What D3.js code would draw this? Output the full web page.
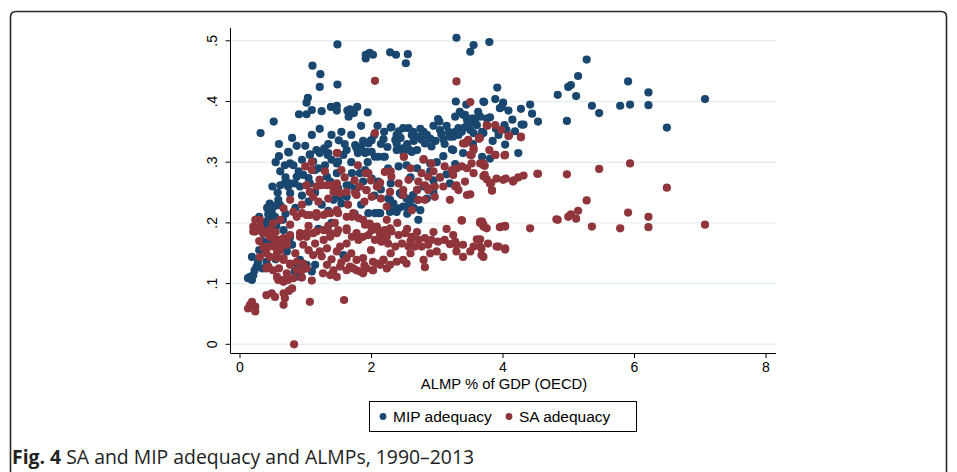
<!DOCTYPE html>
<html><head><meta charset="utf-8">
<script src="https://cdn.jsdelivr.net/npm/d3@7"></script>
<style>body{margin:0;background:#fff}svg{display:block}</style>
</head><body><svg id="c" width="957" height="472"></svg>
<script>
const xTicks=[0,2,4,6,8];
const yTicks=[0,0.1,0.2,0.3,0.4,0.5];
const yTickLabels=["0",".1",".2",".3",".4",".5"];
const xTitle="ALMP % of GDP (OECD)";
const seriesNames=["MIP adequacy","SA adequacy"];
const mip=[
[0.32,0.348],[0.52,0.367],[1.11,0.459],[1.23,0.445],[1.22,0.424],[1.49,0.428],[1.04,0.406],[1.02,0.398],[0.905,0.379],[1.02,0.379],[1.10,0.386],[1.25,0.384],[1.39,0.391],[1.48,0.393],[1.48,0.385],[1.64,0.385],[1.68,0.387],[1.66,0.375],[1.74,0.381],[1.79,0.391],[1.95,0.382],[1.22,0.355],[1.51,0.336],
[0.75,0.316],[0.87,0.327],[1.0,0.327],[1.17,0.32],[1.29,0.323],[1.63,0.32],[1.76,0.328],[1.88,0.335],[2.0,0.336],[2.19,0.338],[2.30,0.357],[2.42,0.351],
[1.49,0.494],[1.92,0.477],[1.98,0.48],[2.03,0.477],[1.92,0.471],[2.29,0.481],[2.38,0.477],[2.56,0.478],[2.53,0.463],
[3.30,0.505],[3.56,0.493],[3.51,0.482],[3.80,0.498],
[3.29,0.40],[3.71,0.40],[3.02,0.371],[3.04,0.367],[3.28,0.375],[3.35,0.383],[3.43,0.378],[3.56,0.372],[3.63,0.383],[3.66,0.375],
[5.28,0.469],[5.15,0.442],[5.0,0.424],[5.04,0.427],[4.84,0.411],[5.12,0.409],[5.91,0.433],[6.22,0.415],[7.08,0.404],[5.36,0.393],[5.47,0.381],[5.79,0.393],[5.94,0.395],[6.22,0.394],[6.50,0.357],[4.98,0.368],[4.42,0.395],[4.54,0.367],[4.28,0.388],[4.32,0.362],[4.29,0.362],[3.92,0.423],[3.89,0.404],[3.72,0.399],[4.01,0.398],[3.99,0.391],[4.09,0.385],[3.96,0.389],[3.81,0.374],[3.69,0.348],[4.03,0.361],[4.06,0.353],[3.94,0.345],[4.04,0.329],[4.24,0.315],[3.81,0.306],[3.69,0.309],[3.25,0.32],[3.28,0.297],
[4.19,0.351],[3.40,0.378],[3.46,0.37],[3.53,0.372],[3.76,0.372],[3.58,0.367],[3.51,0.364],[3.43,0.358],[3.33,0.356],[3.28,0.35],[3.25,0.342],[3.33,0.345],[3.38,0.35],[3.51,0.353],[3.56,0.348],[3.61,0.361],[3.69,0.35],
[3.05,0.353],[3.07,0.346],[3.10,0.338],[3.20,0.342],[2.80,0.35],[2.77,0.337],[2.90,0.339],[2.92,0.326],[2.70,0.32],[2.59,0.32],[2.49,0.323],[2.39,0.32],[2.37,0.337],[2.39,0.345],[2.49,0.356],[2.57,0.356],[2.64,0.35],[2.72,0.342],[2.82,0.331],[2.31,0.358],[3.66,0.342],[3.71,0.348],[3.23,0.321],
[2.39,0.331],[2.42,0.323],[2.01,0.336],[1.96,0.331],[1.78,0.323],[1.34,0.312],[1.29,0.321],[1.07,0.313],[2.06,0.309],[2.19,0.309],[1.93,0.317],[1.80,0.315],
[0.74,0.317],[0.69,0.295],[0.77,0.298],[0.95,0.304],[1.07,0.312],[1.12,0.301],[1.22,0.315],[1.35,0.315],[1.40,0.304],[1.48,0.298],[0.87,0.276],[0.97,0.279],[1.05,0.274],[0.69,0.265],[0.74,0.26],[0.84,0.265],[0.77,0.249],[0.59,0.238],[0.62,0.229],[0.51,0.227],[0.49,0.218],[0.44,0.213],[0.54,0.21],[0.41,0.202],[1.15,0.287],[1.33,0.276],[1.48,0.282],[1.53,0.243],[1.55,0.232],[1.58,0.312],[1.50,0.301],[0.67,0.188],[0.77,0.177],[0.80,0.164],[0.64,0.164],[0.46,0.172],
[1.91,0.315],[2.11,0.309],[2.21,0.309],[2.01,0.317],[2.49,0.317],[2.62,0.317],[1.71,0.282],[1.83,0.282],[1.91,0.287],[2.01,0.273],[2.11,0.268],[2.26,0.29],[2.42,0.293],[2.54,0.295],[1.68,0.262],[1.76,0.254],[1.63,0.243],[2.26,0.24],[2.34,0.232],[2.42,0.224],[2.54,0.227],[2.59,0.238],[2.64,0.246],[2.70,0.254],[2.47,0.246],[2.37,0.221],[2.29,0.218],[1.96,0.216],[2.11,0.216],[2.72,0.205],[2.90,0.298],
[0.19,0.144],[0.26,0.128],[0.23,0.122],[0.16,0.111],[0.19,0.106],[0.13,0.109],[0.21,0.114],[0.41,0.136],[0.59,0.155],[0.67,0.161],[0.72,0.153],[0.84,0.12],[0.92,0.111],[1.10,0.12],[1.15,0.131],[0.97,0.128],[1.58,0.147],
[0.62,0.262],[0.77,0.265],[0.92,0.26],[1.07,0.265],[1.22,0.271],[1.38,0.268],[1.50,0.257],[1.50,0.243],[1.43,0.238],[1.63,0.262],[1.78,0.257],[1.88,0.268],[2.06,0.216],[2.14,0.216],[2.29,0.221],[2.39,0.218],[2.49,0.227],[2.59,0.232],[2.70,0.238],[2.75,0.221],[2.54,0.24],[2.29,0.238],[2.44,0.249],
[0.46,0.232],[0.51,0.227],[0.57,0.229],[0.44,0.216],[0.49,0.21],[0.41,0.194],[0.36,0.183],[0.51,0.188],[0.62,0.172],[0.72,0.161],[0.77,0.166],[0.87,0.133],[0.92,0.139],[1.02,0.131],
[1.55,0.35],[1.70,0.345],[1.85,0.36],[2.10,0.36],[2.20,0.35],[2.80,0.26],[2.95,0.27],[3.05,0.275],[3.15,0.28],[2.90,0.285],[3.0,0.30],
[0.55,0.30],[0.60,0.31],[0.82,0.295],[0.90,0.285],[1.20,0.29],[1.30,0.295],[0.95,0.245],[1.05,0.235],[1.15,0.25],[0.70,0.215],[0.85,0.225],[1.25,0.23],[1.35,0.22],[0.30,0.155],[0.35,0.17],[0.55,0.14],[1.20,0.19],[1.40,0.2],[1.75,0.215],[1.85,0.23],[2.05,0.245],[2.15,0.255],[2.30,0.265],[2.60,0.275],[2.70,0.29],[3.10,0.31],[3.40,0.315],[3.55,0.33],[3.85,0.335],[3.45,0.395],[3.90,0.355],[4.15,0.37],[4.45,0.38],[3.15,0.36],[2.95,0.36],[2.65,0.335],[1.95,0.30],[1.70,0.30],[1.40,0.345],[1.10,0.345],[0.80,0.34],[0.60,0.33],
[2.45,0.34],[2.55,0.33],[2.62,0.345],[2.75,0.355],[2.85,0.345],[2.98,0.335],[3.12,0.33],[3.18,0.35],[2.25,0.325],[2.15,0.33],[1.85,0.325],[1.60,0.33],[1.35,0.33],[2.05,0.345],[0.50,0.26],[0.58,0.25],[0.62,0.285],[0.70,0.275],[0.66,0.205],[0.56,0.195],[0.42,0.225],[0.30,0.21],[0.38,0.2],[0.28,0.135],[0.35,0.125],[2.55,0.215],[2.65,0.225],[2.85,0.24],[2.95,0.25],[3.2,0.265],[3.3,0.29]
];
const sa=[
[2.06,0.434],[2.06,0.348],[1.49,0.315],[3.30,0.433],[3.51,0.399],
[3.77,0.36],[3.89,0.361],[3.98,0.353],[4.10,0.344],[4.28,0.342],[3.65,0.34],[3.80,0.32],[3.89,0.312],[4.03,0.311],[3.71,0.298],[3.73,0.294],[5.47,0.289],[5.94,0.298],[4.54,0.281],[4.98,0.280],[3.71,0.277],[3.76,0.272],[3.91,0.273],[4.01,0.271],[4.05,0.273],[4.17,0.27],[4.24,0.275],[4.32,0.278],[3.83,0.266],[6.50,0.258],[3.84,0.254],
[5.28,0.237],[5.15,0.22],[5.04,0.214],[5.0,0.21],[5.12,0.207],[4.84,0.205],[5.91,0.217],[6.22,0.21],[6.22,0.193],[5.36,0.194],[5.79,0.191],[7.08,0.197],[4.42,0.191],[3.99,0.194],[4.04,0.195],[3.96,0.193],[3.69,0.202],[3.71,0.197],[3.76,0.191],[3.66,0.173],[3.78,0.166],[3.94,0.161],[4.04,0.156],[3.68,0.158],[3.68,0.147],[3.81,0.265],
[3.25,0.279],[3.30,0.29],[3.38,0.293],[3.46,0.29],[3.53,0.298],[3.56,0.282],[3.66,0.298],[3.71,0.295],[3.73,0.279],[3.81,0.265],[4.16,0.268],[4.53,0.281],[3.28,0.26],[3.33,0.254],[3.43,0.268],[3.51,0.247],[3.84,0.253],[3.38,0.204],[3.66,0.202],[3.71,0.194],[4.04,0.194],[4.82,0.206],[3.28,0.169],[3.40,0.164],[3.56,0.161],[3.61,0.173],[3.91,0.161],[4.04,0.158],[3.89,0.312],[4.04,0.312],
[3.76,0.361],[4.09,0.343],[4.28,0.341],[3.65,0.339],[3.46,0.334],[3.43,0.331],[3.56,0.323],[3.51,0.312],[2.50,0.309],[2.80,0.305],
[1.48,0.315],[1.0,0.293],[1.10,0.287],[1.22,0.271],[1.25,0.262],[1.38,0.262],[1.48,0.265],[1.43,0.251],[1.53,0.249],[1.02,0.262],[1.07,0.251],[1.12,0.243],[1.35,0.24],[0.77,0.238],[0.67,0.224],[0.82,0.218],[0.95,0.216],[1.07,0.213],[1.17,0.21],[1.28,0.213],[1.38,0.216],[1.50,0.216],
[0.24,0.205],[0.31,0.194],[0.21,0.186],[0.36,0.183],[0.46,0.188],[0.51,0.175],[0.62,0.166],[0.44,0.161],[0.72,0.172],[0.92,0.177],[1.02,0.183],[1.17,0.186],[1.28,0.172],[1.38,0.177],[1.48,0.183],[1.63,0.191],[1.15,0.166],[0.97,0.164],[1.53,0.161],
[1.80,0.295],[2.50,0.309],[2.80,0.304],[2.92,0.298],[1.96,0.282],[2.21,0.284],[2.31,0.276],[2.42,0.265],[2.49,0.254],[2.57,0.271],[2.72,0.268],[2.82,0.262],[2.87,0.254],[2.97,0.26],[3.12,0.293],[3.23,0.287],[2.77,0.282],[2.87,0.276],[2.97,0.243],[2.82,0.238],[2.72,0.238],[2.62,0.221],[1.76,0.249],[1.83,0.26],[1.93,0.254],[2.01,0.243],[2.11,0.26],[2.24,0.227],
[1.71,0.21],[1.81,0.208],[1.91,0.197],[2.01,0.194],[2.11,0.188],[2.21,0.188],[2.31,0.186],[2.42,0.18],[2.52,0.183],[2.62,0.177],[2.72,0.172],[2.82,0.175],[2.92,0.172],[3.02,0.169],[3.12,0.172],[1.96,0.18],[2.06,0.172],[2.16,0.169],[2.26,0.166],[2.37,0.161],[2.47,0.166],[2.57,0.161],[2.67,0.161],[2.77,0.161],[2.87,0.164],[1.81,0.172],[1.71,0.177],[1.63,0.166],
[0.19,0.07],[0.13,0.059],[0.24,0.062],[0.24,0.054],[0.16,0.065],[0.41,0.081],[0.49,0.084],[0.54,0.078],[0.67,0.065],[0.69,0.076],[0.67,0.084],[1.07,0.07],[1.59,0.073],[0.83,0.0],
[0.44,0.128],[0.51,0.122],[0.59,0.106],[0.67,0.103],[0.74,0.106],[0.82,0.109],[0.57,0.142],[0.67,0.142],[0.77,0.133],[0.87,0.136],[0.95,0.122],[1.02,0.125],[1.33,0.131],[1.43,0.122],[1.53,0.128],[1.63,0.122],[1.73,0.125],[1.83,0.12],[1.93,0.125],[2.03,0.122],[2.14,0.131],[2.24,0.125],[1.38,0.114],[1.48,0.111],[1.27,0.117],[1.12,0.147],[1.22,0.153],[1.33,0.158],[1.48,0.153],[1.63,0.142],[1.78,0.139],[1.88,0.142],[2.03,0.136],[2.19,0.139],
[2.54,0.133],[2.80,0.139],[3.0,0.153],[3.10,0.144],[3.30,0.153],[3.51,0.153],[3.66,0.161],[3.71,0.144],[2.82,0.127],[3.40,0.144],[3.30,0.164],[3.66,0.20],[3.38,0.204],
[2.19,0.139],[2.29,0.131],[2.39,0.136],[2.03,0.122],[1.88,0.117],[1.78,0.122],[1.68,0.128],[2.49,0.139],[2.09,0.133],
[1.02,0.262],[1.17,0.26],[1.33,0.262],[1.48,0.26],[1.63,0.251],[1.78,0.246],[1.93,0.254],[2.09,0.26],[2.29,0.251],[2.49,0.246],[2.70,0.254],[2.90,0.257],[3.10,0.26],[3.30,0.262],[3.46,0.246],[3.20,0.238],
[0.21,0.194],[0.31,0.188],[0.41,0.186],[0.46,0.177],[0.57,0.172],[0.67,0.175],[0.77,0.18],[0.92,0.183],[1.02,0.177],[1.12,0.183],[1.28,0.188],[1.38,0.183],[1.50,0.188],[1.63,0.188],[1.78,0.183],[1.88,0.177],[2.01,0.188],[2.14,0.18],[2.24,0.177],
[0.31,0.205],[0.24,0.186],[0.51,0.199],[0.62,0.205],[0.77,0.197],[0.87,0.21],[1.02,0.213],[1.17,0.216],[1.33,0.216],[1.48,0.221],[1.63,0.21],[1.73,0.216],[1.88,0.205],[1.98,0.199],[2.09,0.194],[2.24,0.205],[2.29,0.191],
[0.46,0.144],[0.57,0.15],[0.67,0.139],[0.77,0.131],[0.41,0.125],[0.57,0.111],[0.67,0.106],[0.87,0.122],[0.97,0.133],[0.72,0.117],[0.41,0.15],[0.31,0.144],[0.51,0.161],[0.62,0.155],[0.72,0.164],
[1.55,0.287],[1.92,0.282],[2.14,0.266],[3.40,0.331],[3.48,0.337],[3.64,0.339],[3.56,0.32],[3.53,0.312],
[1.10,0.30],[1.30,0.285],[1.60,0.275],[1.75,0.27],[2.00,0.27],[2.30,0.285],[2.60,0.29],[2.95,0.285],[3.05,0.275],[0.95,0.23],[1.20,0.235],[1.45,0.2],[1.65,0.23],[1.90,0.235],[2.15,0.24],[2.40,0.20],[2.55,0.19],[2.70,0.185],[2.95,0.185],[3.15,0.19],[3.25,0.18],[0.30,0.17],[0.36,0.16],[0.55,0.185],[0.85,0.15],[1.05,0.155],[1.25,0.145],[1.40,0.14],[1.70,0.15],[2.00,0.155],[2.30,0.15],[2.60,0.15],[2.90,0.15],[3.20,0.165],[1.10,0.105],[0.95,0.11],[1.55,0.135],[1.90,0.13],[2.60,0.17],[0.60,0.125],[0.80,0.092],[0.75,0.088],[1.05,0.195],[1.35,0.195]
];

const svg=d3.select("#c");
const x=d3.scaleLinear().domain([0,8]).range([239.5,765.5]);
const y=d3.scaleLinear().domain([0,0.5]).range([344.3,40.8]);
const font="'Liberation Sans', Arial, sans-serif";
const cBlue="#1a476f", cRed="#90353b";

// outer frame
svg.append("path").attr("d","M10.5,480 L10.5,17 Q10.5,11.5 16,11.5 L941,11.5 Q946.5,11.5 946.5,17 L946.5,480")
  .attr("fill","none").attr("stroke","#2a2a2a").attr("stroke-width",1.6);

// gridlines
svg.append("g").selectAll("line").data(yTicks).join("line")
  .attr("x1",231).attr("x2",776).attr("y1",d=>y(d)).attr("y2",d=>y(d))
  .attr("stroke","#e6efef").attr("stroke-width",1.4);

// points
const r=4.1;
svg.append("g").selectAll("circle").data(mip).join("circle")
  .attr("cx",d=>x(d[0])).attr("cy",d=>y(d[1])).attr("r",r).attr("fill",cBlue);
svg.append("g").selectAll("circle").data(sa).join("circle")
  .attr("cx",d=>x(d[0])).attr("cy",d=>y(d[1])).attr("r",r).attr("fill",cRed);

// axes
const xAxis=d3.axisBottom(x).tickValues(xTicks).tickSize(5).tickPadding(4).tickFormat(d3.format("d"));
const gx=svg.append("g").attr("transform","translate(0,353)").call(xAxis);
gx.select(".domain").attr("d","M230.5,0.5H776");
gx.selectAll("text").attr("font-family",font).attr("font-size",14).attr("fill","#000");
gx.selectAll("line").attr("stroke","#000");

const yAxis=d3.axisLeft(y).tickValues(yTicks).tickSize(5).tickPadding(5).tickFormat((d,i)=>yTickLabels[i]);
const gy=svg.append("g").attr("transform","translate(230.5,0)").call(yAxis);
gy.select(".domain").attr("d","M0,28V353");
gy.selectAll("line").attr("stroke","#000");
gy.selectAll("text").attr("font-family",font).attr("font-size",14).attr("fill","#000")
  .attr("text-anchor","middle").attr("dy",0).attr("x",0)
  .attr("transform",d=>`translate(-14,${y(d)}) rotate(-90)`).attr("y",0);
gy.selectAll(".tick").attr("transform","translate(0,0)");
gy.selectAll(".tick line").attr("transform",d=>`translate(0,${y(d)})`);

svg.append("text").attr("x",504).attr("y",389).attr("text-anchor","middle")
  .attr("font-family",font).attr("font-size",14.8).text(xTitle);

// legend
const lg=svg.append("g");
lg.append("rect").attr("x",369.5).attr("y",401.5).attr("width",267).attr("height",30)
  .attr("fill","#fff").attr("stroke","#000").attr("stroke-width",1);
const items=[{n:seriesNames[0],c:cBlue,x:383},{n:seriesNames[1],c:cRed,x:509}];
items.forEach(it=>{
  lg.append("circle").attr("cx",it.x).attr("cy",416.5).attr("r",3.4).attr("fill",it.c);
  lg.append("text").attr("x",it.x+10).attr("y",422).attr("font-family",font).attr("font-size",15.5).text(it.n);
});

// caption
const cap=svg.append("text").attr("x",12).attr("y",464).attr("font-family","'Open Sans', 'Noto Sans', sans-serif").attr("font-size",19.4).attr("fill","#222");
cap.append("tspan").attr("font-weight","bold").text("Fig. 4");
cap.append("tspan").text(" SA and MIP adequacy and ALMPs, 1990–2013");
</script></body></html>
